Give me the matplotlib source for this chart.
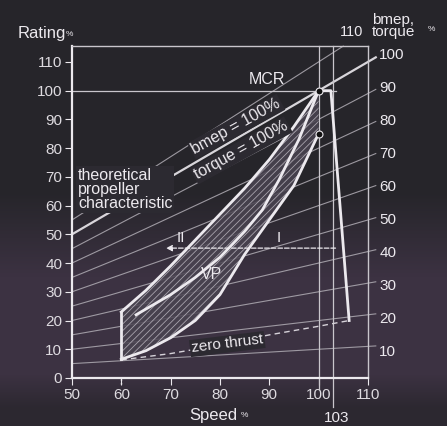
import numpy as np
import matplotlib.pyplot as plt

# --- data ---
# constant bmep / torque lines (% of MCR torque)
torque_levels = [10, 20, 30, 40, 50, 60, 70, 80, 90, 100, 110]
torque_labels = ['10', '20', '30', '40', '50', '60', '70', '80', '90', '100']

x_ticks = [50, 60, 70, 80, 90, 100, 110]
y_ticks = [0, 10, 20, 30, 40, 50, 60, 70, 80, 90, 100, 110]

# upper limit of VP area
upper_speed = [60, 65, 70, 75, 80, 85, 90, 95, 100]
upper_rating = [23, 30.5, 39, 48, 57, 66, 76, 87.5, 100]
# intermediate curve
mid_speed = [63, 70, 75, 80, 85, 88.6, 92, 96, 100]
mid_rating = [22, 29, 35, 42, 51, 58.5, 69, 83, 100]
# lower limit of VP area
low_speed = [60, 65, 70, 75, 80, 85, 90, 95, 100]
low_rating = [6.5, 9.5, 14, 20, 29, 43, 55, 67, 85]
# zero thrust
zero_speed = [60, 70, 80, 90, 100, 106.2]
zero_rating = [6.3, 8.5, 11.5, 15, 18, 20]
# overspeed limit
limit_speed = [100, 102.5, 106.2]
limit_rating = [100, 100, 20]

# --- style ---
bg = '#2c2a31'
fg = '#ece9ee'
thin = '#a9a5ad'
plt.rcParams['font.family'] = ['Liberation Sans', 'DejaVu Sans']
plt.rcParams['font.size'] = 11
plt.rcParams['hatch.linewidth'] = 0.6
plt.rcParams['hatch.color'] = '#b9b4bd'

fig = plt.figure(figsize=(4.47, 4.26), dpi=100)

# background with a faint violet band in the lower half
bg_ax = fig.add_axes([0, 0, 1, 1], zorder=-10)
rows = np.linspace(0, 1, 426)
c_top = np.array([38, 37, 42]) / 255
c_mid = np.array([60, 50, 66]) / 255
c_bot = np.array([44, 40, 48]) / 255
w = np.clip((rows - 0.45) / 0.2, 0, 1)[:, None]
grad = c_top * (1 - w) + c_mid * w
w2 = np.clip((rows - 0.88) / 0.08, 0, 1)[:, None]
grad = grad * (1 - w2) + c_bot * w2
bg_ax.imshow(np.repeat(grad[:, None, :], 10, axis=1), aspect='auto', extent=[0, 1, 0, 1])
bg_ax.axis('off')

ax = fig.add_axes([0.161, 0.1127, 0.662, 0.779])
ax.set_facecolor('none')
ax.set_xlim(50, 110)
ax.set_ylim(0, 115.5)

for s in ['left', 'bottom']:
    ax.spines[s].set_color(fg)
    ax.spines[s].set_linewidth(1.6)
for s in ['top', 'right']:
    ax.spines[s].set_color('#c9c6cc')
    ax.spines[s].set_linewidth(1.0)

ax.set_xticks(x_ticks)
ax.set_yticks(y_ticks)
ax.tick_params(colors=fg, labelcolor='#dedbe0', length=5, width=0.8, labelsize=11, pad=2)

# constant torque lines: rating = torque * speed / 100
x_end = 111.6
for k in torque_levels:
    xe = min(x_end, 115.5 * 100 / k)
    xs = np.array([50, xe])
    lw, col = (1.6, fg) if k == 100 else (0.8, thin)
    ax.plot(xs, xs * k / 100, color=col, lw=lw, alpha=0.9, clip_on=False, zorder=2)
for k, lab in zip(torque_levels, torque_labels):
    ax.text(112.3, k * 1.15 - 2.5, lab, color=fg, va='center', ha='left', clip_on=False)
ax.text(106.6, 120.5, '110', color=fg, ha='center', va='center', fontsize=10.5)
ax.text(110.8, 122.6, 'bmep,\ntorque', color=fg, ha='left', va='center', linespacing=0.8)
ax.text(122.2, 121.2, '%', color=fg, ha='left', va='center', fontsize=6)

# reference lines
ax.plot([50, 103.5], [100, 100], color='#c9c6cc', lw=0.9, zorder=2)
ax.plot([100, 100], [-4, 115.5], color='#c9c6cc', lw=0.9, clip_on=False, zorder=2)
ax.plot([103, 103], [-10, 115.5], color='#c9c6cc', lw=0.9, clip_on=False, zorder=2)
ax.plot([60, 60], [-2, 0], color=fg, lw=1, ls=':', clip_on=False)

# VP area
us = np.linspace(60, 100, 200)
up = np.interp(us, upper_speed, upper_rating)
lo = np.interp(us, low_speed, low_rating)
ax.fill_between(us, lo, up, facecolor='#4a4451', edgecolor='#b9b4bd', hatch='/////',
                lw=0, alpha=0.85, zorder=3)
ax.plot(upper_speed, upper_rating, color=fg, lw=2, zorder=5)
ax.plot(mid_speed, mid_rating, color=fg, lw=2, zorder=5)
ax.plot(low_speed, low_rating, color=fg, lw=2, zorder=5)
ax.plot([60, 60], [low_rating[0], upper_rating[0]], color=fg, lw=2, zorder=5)
ax.plot(zero_speed, zero_rating, color='#d6d2d9', lw=1, ls=(0, (4, 3)), zorder=4)
ax.plot(limit_speed, limit_rating, color=fg, lw=2, zorder=5)
ax.plot([100, 100], [100, 85], 'o', ms=5, mfc='#111111', mec=fg, mew=0.8, zorder=6)

# load change arrow
ax.annotate('', xy=(68.5, 45.2), xytext=(104, 45.2),
            arrowprops=dict(arrowstyle='-|>', color=fg, lw=0.9, ls='--',
                            mutation_scale=9), zorder=6)

# labels
box = dict(boxstyle='square,pad=0.1', fc=bg, ec='none')
ax.text(89.6, 103.8, 'MCR', color=fg, ha='center', va='center', fontsize=11.5)
ax.text(78.3, 35.9, 'VP', color=fg, ha='center', va='center', fontsize=11.5)
ax.text(72, 48.7, 'II', color=fg, ha='center', va='center')
ax.text(92, 48.7, 'I', color=fg, ha='center', va='center')
ax.text(81.5, 11.8, 'zero thrust', color=fg, ha='center', va='center', rotation=7,
        bbox=box, zorder=7)
ax.text(51.2, 65.6, 'theoretical\npropeller\ncharacteristic', color=fg, ha='left',
        va='center', linespacing=0.95, fontsize=11.5, bbox=box, zorder=7)
ax.text(83.3, 87.5, 'bmep = 100%', color=fg, ha='center', va='center', rotation=29,
        fontsize=11.5, bbox=box, zorder=7)
ax.text(84.3, 79.2, 'torque = 100%', color=fg, ha='center', va='center', rotation=29,
        fontsize=11.5, bbox=box, zorder=7)

ax.text(38.9, 120, 'Rating', color=fg, ha='left', va='center', fontsize=12, clip_on=False)
ax.text(48.7, 119.5, '%', color=fg, ha='left', va='center', fontsize=6)
ax.text(78.6, -13.2, 'Speed', color=fg, ha='center', va='center', fontsize=12)
ax.text(84.3, -13.2, '%', color=fg, ha='left', va='center', fontsize=6)
ax.text(103.6, -13.8, '103', color=fg, ha='center', va='center')

fig.savefig('out.png', dpi=100, facecolor=bg)
